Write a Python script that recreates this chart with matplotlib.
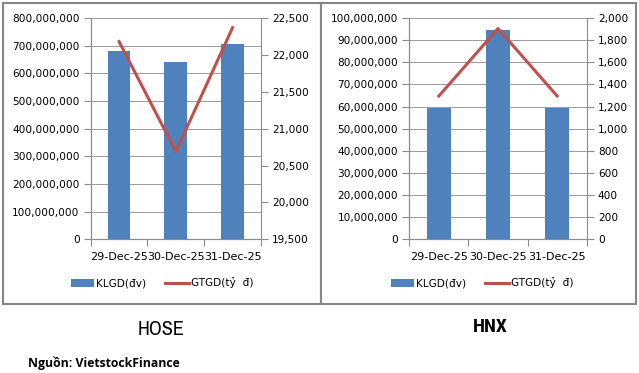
import matplotlib
matplotlib.use("Agg")
import matplotlib.pyplot as plt
from matplotlib.patches import Rectangle
from matplotlib.ticker import FuncFormatter, FixedLocator, MultipleLocator

# data
dates = ["29-Dec-25", "30-Dec-25", "31-Dec-25"]
hose_klgd = [681e6, 641e6, 707e6]
hose_gtgd = [22180, 20690, 22370]
hnx_klgd = [59.3e6, 94.5e6, 59.3e6]
hnx_gtgd = [1295, 1905, 1295]
legend_labels = ["KLGD(\u0111v)", "GTGD(t\u1ef7  \u0111)"]

BAR = "#4F81BD"
LINE = "#C0504D"
GRID = "#8c8c8c"
W, H = 639, 373
FS = 7.6

fig = plt.figure(figsize=(W / 100, H / 100), dpi=100)
fig.patch.set_facecolor("white")

fmt = FuncFormatter(lambda v, p: f"{v:,.0f}")


def px_axes(x0, y0, x1, y1):
    return fig.add_axes([x0 / W, 1 - y1 / H, (x1 - x0) / W, (y1 - y0) / H])


def draw_panel(rect, klgd, gtgd, lylim, lstep, rylim, rstep, legx):
    ax = px_axes(*rect)
    x = list(range(len(dates)))
    bars = ax.bar(x, klgd, width=0.4, color=BAR, zorder=3)
    ax.set_xlim(-0.5, len(dates) - 0.5)
    ax.set_ylim(*lylim)
    ax.yaxis.set_major_locator(MultipleLocator(lstep))
    ax.yaxis.set_major_formatter(fmt)
    ax.grid(axis="y", color=GRID, lw=0.6, zorder=0)
    ax.set_axisbelow(True)

    ax.xaxis.set_major_locator(FixedLocator([-0.5, 0.5, 1.5, 2.5]))
    ax.xaxis.set_minor_locator(FixedLocator(x))
    ax.set_xticklabels([])
    ax.set_xticklabels(dates, minor=True, fontsize=8.0)
    ax.tick_params(axis="x", which="minor", length=0, pad=9)
    ax.tick_params(axis="x", which="major", length=5, color=GRID)

    ax2 = ax.twinx()
    ln, = ax2.plot(x, gtgd, color=LINE, lw=2.2, zorder=4)
    ax2.set_ylim(*rylim)
    ax2.yaxis.set_major_locator(MultipleLocator(rstep))
    ax2.yaxis.set_major_formatter(fmt)

    for a in (ax, ax2):
        for s in a.spines.values():
            s.set_color(GRID)
        a.spines["top"].set_visible(False)
        a.tick_params(axis="y", length=5, color=GRID, labelsize=FS, pad=3)
    ax.spines["right"].set_visible(False)

    fig.legend([bars, ln], legend_labels, loc="center",
               bbox_to_anchor=(legx / W, 1 - 283 / H), ncol=2, frameon=False,
               fontsize=FS, handlelength=2.2, handleheight=0.75,
               columnspacing=1.8, handletextpad=0.2)


draw_panel((90.7, 18, 261, 239.3), hose_klgd, hose_gtgd,
           (0, 800e6), 100e6, (19500, 22500), 500, 162)
draw_panel((409.3, 18, 586.7, 239.3), hnx_klgd, hnx_gtgd,
           (0, 100e6), 10e6, (0, 2000), 200, 482)

# panel borders
for x0, x1 in [(3, 321), (321, 636)]:
    fig.patches.append(Rectangle((x0 / W, 1 - 304 / H), (x1 - x0) / W, 301 / H,
                                 transform=fig.transFigure, fill=False,
                                 edgecolor="#868686", lw=1.5))

narrow = ["Archivo Narrow", "DejaVu Sans"]
narrow_bold = ["Roboto Condensed", "Asap Condensed", "Archivo Narrow", "DejaVu Sans"]
fig.text(161 / W, 1 - 335 / H, "HOSE", ha="center", va="baseline",
         fontsize=14.5, family=narrow)
fig.text(490 / W, 1 - 331.7 / H, "HNX", ha="center", va="baseline",
         fontsize=14, fontweight="bold", family=narrow_bold)
fig.text(28 / W, 1 - 363 / H, "Ngu\u1ed3n: VietstockFinance", ha="left", va="center",
         fontsize=8.8, fontweight="bold", family=["Open Sans", "DejaVu Sans"])

fig.savefig("out.png", dpi=100)
